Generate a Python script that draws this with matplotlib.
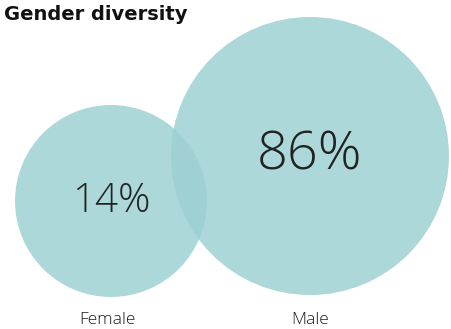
import matplotlib.pyplot as plt
from matplotlib.patches import Circle

categories = ["Female", "Male"]
shares = [14, 86]

# circle geometry in pixel coords of the 452x329 canvas
centers = [(111, 201), (310, 156)]
radii = [96, 139]
pct_sizes = [29, 39]

fig = plt.figure(figsize=(4.52, 3.29), dpi=100)
ax = fig.add_axes([0, 0, 1, 1])
ax.set_xlim(0, 452)
ax.set_ylim(329, 0)
ax.set_aspect("equal")
ax.axis("off")

for cat, val, (cx, cy), r, fs in zip(categories, shares, centers, radii, pct_sizes):
    ax.add_patch(Circle((cx, cy), r, facecolor="#9dd0d2", alpha=0.83, edgecolor="none"))
    ax.text(cx, cy, f"{val}%", ha="center", va="center", fontsize=fs,
            family="Open Sans", fontweight="light", color="#222222")
    ax.text(cx - 4 if cat == "Female" else cx, 320, cat, ha="center", va="center",
            fontsize=12.5, family="Open Sans", fontweight="light", color="#1a1a1a")

ax.text(4, 14, "Gender diversity", ha="left", va="center",
        fontsize=14, family="DejaVu Sans", fontweight="bold", color="#111111")

fig.savefig("out.png", dpi=100)
